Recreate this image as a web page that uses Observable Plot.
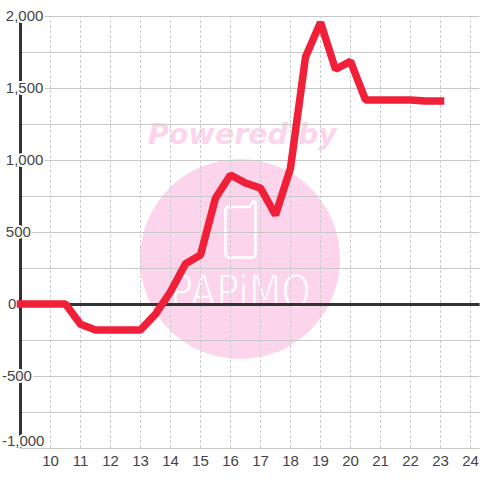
<!DOCTYPE html>
<html><head><meta charset="utf-8">
<script src="https://cdn.jsdelivr.net/npm/d3@7"></script>
<script src="https://cdn.jsdelivr.net/npm/@observablehq/plot@0.6"></script>
<style>
html,body{margin:0;padding:0;background:#fff}
#wrap{position:relative;width:480px;height:480px;overflow:hidden}
#wrap svg{position:absolute;left:0;top:0}
</style></head><body>
<div id="wrap">
<svg id="wm" width="480" height="480" viewBox="0 0 480 480">
  <circle cx="240" cy="259" r="100" fill="#fcd5ec"/>
  <text x="242.5" y="144" text-anchor="middle" font-family="DejaVu Sans" font-weight="bold" font-style="italic" font-size="28.5" fill="#fcd5ec">Powered by</text>
  <path d="M229 207 H248 Q250 207 251 205 L252 203 Q253 201 255.5 201.5 V253 Q255.5 257.5 251 257.5 H230 Q225.5 257.5 225.5 253 V210 Q225.5 207 229 207 Z" fill="none" stroke="#fff" stroke-width="2.6"/>
  <g transform="translate(240.5 307) scale(0.84 1)">
    <text x="0" y="0" text-anchor="middle" font-family="DejaVu Sans" font-size="45" fill="#fff" stroke="#fcd5ec" stroke-width="1.4">PAPiMO</text>
  </g>
</svg>
</div>
<script>
const hours = [9,9.5,10,10.5,11,11.5,12,12.5,13,13.5,14,14.5,15,15.5,16,16.5,17,17.5,18,18.5,19,19.5,20,20.5,21,21.5,22,22.5,23];
const values = [0,0,0,0,-140,-180,-180,-180,-180,-70,85,280,340,736,896,840,805,618,944,1715,1955,1630,1685,1417,1417,1417,1417,1410,1410];
const xTicks = [10,11,12,13,14,15,16,17,18,19,20,21,22,23,24];
const yLabels = [2000,1500,1000,500,0,-500];
const yLabelHours = [8.51,8.51,8.51,8.51,8.58,8.38];
const yBottomLabel = [-1000];
const yBottomHour = 8.38;
const yGrid = [2000,1750,1500,1250,1000,750,500,250,0,-250,-500,-750,-1000];
const axisHour = 9;
const rightEdge = 24.32;
const rows = hours.map((h,i)=>({h,v:values[i]}));
const labelRows = yLabels.map((v,i)=>({v,h:yLabelHours[i]}));
const fmt = d3.format(",~d");
const label = d => fmt(d.v).replace("\u2212","-");
const font = "Liberation Sans";
const halo = {textAnchor:"start",fontSize:15,fill:"#444",stroke:"#fff",strokeWidth:4,paintOrder:"stroke"};
const chart = Plot.plot({
  width:480,height:480,marginLeft:0,marginRight:0,marginTop:0,marginBottom:0,
  style:{background:"transparent",fontFamily:font},
  x:{domain:[10,24],range:[50,470],axis:null},
  y:{domain:[-1000,2000],range:[448,16],axis:null},
  marks:[
    Plot.ruleX(xTicks,{x:d=>d,y1:-1000,y2:2000,stroke:"#ccc",strokeWidth:1,strokeDasharray:"3 2"}),
    Plot.ruleY(yGrid,{y:d=>d,x1:axisHour,x2:rightEdge,stroke:"#c8c8c8",strokeWidth:1}),
    Plot.ruleX([axisHour],{y1:-1000,y2:2000,stroke:"#333",strokeWidth:3}),
    Plot.ruleY([0],{x1:axisHour,x2:rightEdge,stroke:"#333",strokeWidth:3}),
    Plot.text(labelRows,{x:"h",y:"v",text:label,...halo}),
    Plot.text(yBottomLabel.map(v=>({v,h:yBottomHour})),{x:"h",y:"v",text:label,dy:-7,...halo}),
    Plot.text(xTicks,{x:d=>d,y:-1000,text:d=>String(d),dy:13,fontSize:15,fill:"#444"}),
    Plot.line(rows,{x:"h",y:"v",stroke:"#ef2038",strokeWidth:7.5,strokeLinecap:"square",strokeLinejoin:"bevel",curve:"linear",dy:-0.5})
  ]
});
document.getElementById("wrap").appendChild(chart);
</script>
</body></html>
